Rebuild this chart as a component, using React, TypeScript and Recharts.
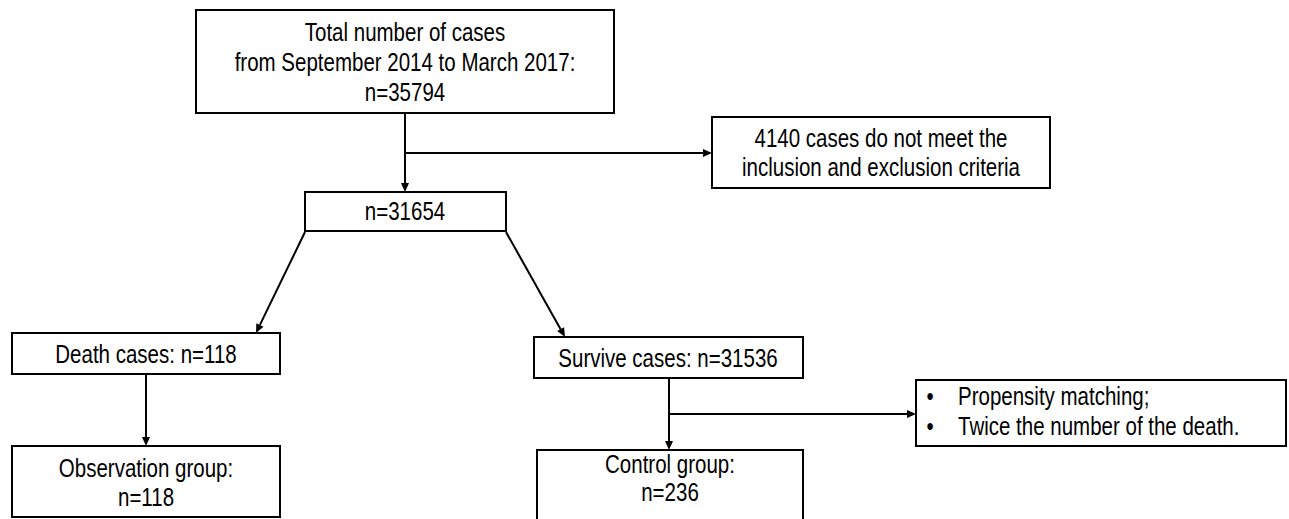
import React from "react";
import { ScatterChart, XAxis, YAxis, ReferenceArea, ReferenceLine, Scatter } from "recharts";

const W = 1289;
const H = 519;

// flow boxes, in page pixel units (the axes map 1:1 onto the page)
const boxNames = ["total", "excluded", "eligible", "death", "survive", "matching", "observation", "control"];
const boxLeft = [196, 712, 305, 12, 534, 916, 12, 537];
const boxRight = [614, 1050, 506, 280, 803, 1286, 280, 803];
const boxTop = [10, 117, 192, 333, 337, 380, 446, 450];
const boxBottom = [113, 188, 231, 374, 378, 446, 517, 521];

// connectors: start and end point of each arrow
const arrowFrom = [[405, 113], [405, 153], [305, 232], [506, 232], [146, 374], [669, 378], [669, 414]];
const arrowTo = [[405, 192], [712, 153], [256, 333], [565, 337], [146, 446], [669, 450], [916, 414]];

// text lines
const centeredText = [
  { x: 405, y: 32, text: "Total number of cases" },
  { x: 405, y: 62, text: "from September 2014 to March 2017:" },
  { x: 405, y: 92, text: "n=35794" },
  { x: 881, y: 138, text: "4140 cases do not meet the" },
  { x: 881, y: 167, text: "inclusion and exclusion criteria" },
  { x: 405, y: 211, text: "n=31654" },
  { x: 146, y: 354, text: "Death cases: n=118" },
  { x: 668, y: 358, text: "Survive cases: n=31536" },
  { x: 146, y: 468, text: "Observation group:" },
  { x: 146, y: 497, text: "n=118" },
  { x: 670, y: 464, text: "Control group:" },
  { x: 670, y: 492, text: "n=236" },
];
const bulletText = [
  { x: 958, y: 396, text: "Propensity matching;" },
  { x: 958, y: 426, text: "Twice the number of the death." },
];
const bulletMarks = [
  { x: 930, y: 396, text: "•" },
  { x: 930, y: 426, text: "•" },
];

// no narrow font installed, so squeeze Liberation Sans to an Arial Narrow width
const FONT = "'Liberation Sans', Arial, sans-serif";
const NARROW = 0.82;

const makeText = (anchor: "middle" | "start") => (props: any) => {
  const { cx, cy, payload } = props;
  return (
    <text
      transform={`translate(${cx},${cy}) scale(${NARROW},1)`}
      x={0}
      y={0}
      dy="0.36em"
      textAnchor={anchor}
      fontSize={25}
      fontFamily={FONT}
      fill="#000"
    >
      {payload.text}
    </text>
  );
};

const Arrow = (props: any) => {
  const { x1, y1, x2, y2 } = props;
  const dx = x2 - x1;
  const dy = y2 - y1;
  const len = Math.sqrt(dx * dx + dy * dy) || 1;
  const ux = dx / len;
  const uy = dy / len;
  const head = 9;
  const half = 4;
  const bx = x2 - ux * head;
  const by = y2 - uy * head;
  const pts = `${x2},${y2} ${bx - uy * half},${by + ux * half} ${bx + uy * half},${by - ux * half}`;
  return (
    <g>
      <line x1={x1} y1={y1} x2={bx} y2={by} stroke="#000" strokeWidth={2} />
      <polygon points={pts} fill="#000" />
    </g>
  );
};

export default function App() {
  return (
    <div style={{ width: W, height: H, background: "#fff" }}>
      <style>{"body{margin:0}"}</style>
      <ScatterChart width={W} height={H} margin={{ top: 0, right: 0, bottom: 0, left: 0 }}>
        <XAxis type="number" dataKey="x" domain={[0, W]} hide allowDataOverflow />
        <YAxis type="number" dataKey="y" domain={[0, H]} reversed hide allowDataOverflow />
        {boxNames.map((name, i) => (
          <ReferenceArea
            key={name}
            x1={boxLeft[i]}
            x2={boxRight[i]}
            y1={boxTop[i]}
            y2={boxBottom[i]}
            fill="none"
            stroke="#000"
            strokeWidth={2}
            fillOpacity={0}
            strokeOpacity={1}
            ifOverflow="visible"
          />
        ))}
        {arrowFrom.map((p, i) => (
          <ReferenceLine
            key={`arrow-${i}`}
            segment={[
              { x: p[0], y: p[1] },
              { x: arrowTo[i][0], y: arrowTo[i][1] },
            ]}
            ifOverflow="visible"
            shape={Arrow}
          />
        ))}
        <Scatter data={centeredText} shape={makeText("middle")} isAnimationActive={false} />
        <Scatter data={bulletText} shape={makeText("start")} isAnimationActive={false} />
        <Scatter data={bulletMarks} shape={makeText("middle")} isAnimationActive={false} />
      </ScatterChart>
    </div>
  );
}
